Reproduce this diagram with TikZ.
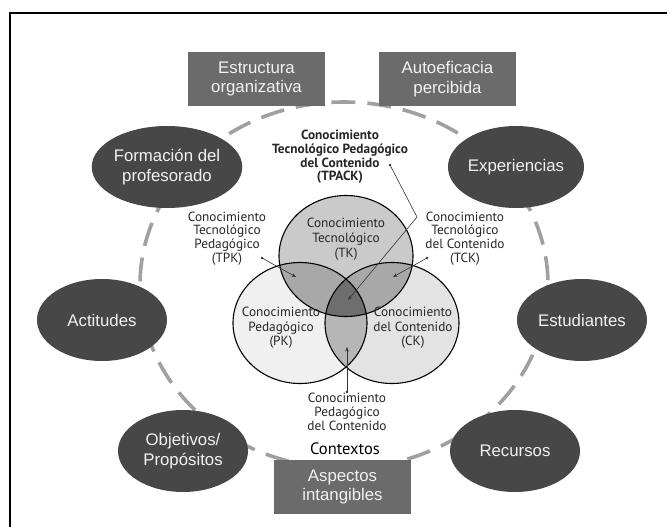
\documentclass[tikz,border=0pt]{standalone}
\usepackage{fontspec}
\setmainfont{Liberation Sans}
\newfontfamily\vennfont{PT Sans}
\usetikzlibrary{shapes.geometric,arrows.meta}
\definecolor{ellfill}{HTML}{474747}
\definecolor{boxfill}{HTML}{6B6B6B}
\definecolor{dashgray}{HTML}{A0A0A0}
\definecolor{tkfill}{HTML}{CACACA}
\definecolor{pkfill}{HTML}{F0F0F0}
\definecolor{ckfill}{HTML}{E3E3E3}
\definecolor{twofill}{HTML}{A8A8A8}
\definecolor{pckfill}{HTML}{B6B6B6}
\definecolor{allfill}{HTML}{6E6E6E}
\definecolor{wtext}{HTML}{F2F2F2}
\begin{document}
\begin{tikzpicture}[x=1pt,y=-1pt,
  darkell/.style={ellipse, fill=ellfill, text=wtext, minimum width=130pt, minimum height=82pt, inner sep=0pt, align=center, font=\fontsize{16.8}{19.5}\selectfont},
  graybox/.style={rectangle, fill=boxfill, text=wtext, minimum width=137pt, minimum height=54pt, inner sep=0pt, align=center, font=\fontsize{16.8}{19.5}\selectfont},
  vcircle/.style={ellipse, draw=black, line width=1.1pt, minimum width=134pt, minimum height=121pt, inner sep=0pt},
  vlabel/.style={align=center, text=black!85, font=\vennfont\fontsize{13.3}{13.8}\selectfont, inner sep=0pt},
  leader/.style={draw=black!80, line width=0.6pt, -{Stealth[length=4.5pt,width=3.5pt]}},
  dotmark/.style={circle, fill=black!80, inner sep=0pt, minimum size=2.6pt}
]
\useasboundingbox (0,0) rectangle (667,527);
\fill[white] (0,0) rectangle (667,527);
% frame
\draw[line width=2pt] (10,527) -- (10,13) -- (667,13);
% dashed context ellipse
\draw[dashgray, line width=3.6pt, dash pattern=on 24pt off 12pt] (344,285) ellipse [x radius=204, y radius=183];
% Venn fills
\fill[tkfill] (346,256) ellipse [x radius=67, y radius=60.5];
\fill[pkfill] (300,323) ellipse [x radius=67, y radius=60.5];
\fill[ckfill] (392,323) ellipse [x radius=67, y radius=60.5];
\begin{scope}
  \clip (346,256) ellipse [x radius=67, y radius=60.5];
  \fill[twofill] (300,323) ellipse [x radius=67, y radius=60.5];
  \fill[twofill] (392,323) ellipse [x radius=67, y radius=60.5];
\end{scope}
\begin{scope}
  \clip (300,323) ellipse [x radius=67, y radius=60.5];
  \fill[pckfill] (392,323) ellipse [x radius=67, y radius=60.5];
\end{scope}
\begin{scope}
  \clip (346,256) ellipse [x radius=67, y radius=60.5];
  \clip (300,323) ellipse [x radius=67, y radius=60.5];
  \fill[allfill] (392,323) ellipse [x radius=67, y radius=60.5];
\end{scope}
\node[vcircle] (tk) at (346,256) {};
\node[vcircle] (pk) at (300,323) {};
\node[vcircle] (ck) at (392,323) {};
% outer boxes
\node[graybox] (estr) at (256.5,79) {Estructura\\organizativa};
\node[graybox] (auto) at (447.5,79) {Autoeficacia\\percibida};
\node[graybox] (aspe) at (342.5,487) {Aspectos\\intangibles};
% dark ellipses
\node[darkell] (form) at (167,167) {Formación del\\profesorado};
\node[darkell] (expe) at (516,167) {Experiencias};
\node[darkell] (acti) at (102,320) {Actitudes};
\node[darkell] (estu) at (582,320) {Estudiantes};
\node[darkell] (obje) at (183,451) {Objetivos/\\Propósitos};
\node[darkell] (recu) at (515,451) {Recursos};
% labels
\node[vlabel, font=\vennfont\bfseries\fontsize{13.3}{13.6}\selectfont] (tpackl) at (340,157) {Conocimiento\\Tecnológico Pedagógico\\del Contenido\\(TPACK)};
\node[vlabel] (tpkl) at (227,238.5) {Conocimiento\\Tecnológico\\Pedagógico\\(TPK)};
\node[vlabel] (tckl) at (465,238.5) {Conocimiento\\Tecnológico\\del Contenido\\(TCK)};
\node[vlabel, font=\vennfont\fontsize{13.3}{15.2}\selectfont] (tkl) at (346,239) {Conocimiento\\Tecnológico\\(TK)};
\node[vlabel, font=\vennfont\fontsize{13.3}{14.5}\selectfont] (pkl) at (281,328) {Conocimiento\\Pedagógico\\(PK)};
\node[vlabel, font=\vennfont\fontsize{13.3}{14.5}\selectfont] (ckl) at (413,328) {Conocimiento\\del Contenido\\(CK)};
\node[vlabel] (pckl) at (347,412) {Conocimiento\\Pedagógico\\del Contenido};
\node[vlabel, text=black, font=\vennfont\fontsize{16.5}{18}\selectfont] (ctx) at (345,449) {Contextos};
% leader lines
\node[dotmark] (tpackdot) at (390,165) {};
\coordinate (tpackbend) at (417,217);
\coordinate (tpackpt) at (348,300);
\draw[leader] (tpackdot.center) -- (tpackbend) -- (tpackpt);
\node[dotmark] (tpkdot) at (262,258) {};
\coordinate (tpkpt) at (296,277);
\draw[leader] (tpkdot.center) -- (tpkpt);
\node[dotmark] (tckdot) at (427,258) {};
\coordinate (tckpt) at (393,277);
\draw[leader] (tckdot.center) -- (tckpt);
\node[dotmark] (pckdot) at (347,392) {};
\coordinate (pckpt) at (347,347);
\draw[leader] (pckdot.center) -- (pckpt);
\end{tikzpicture}
\end{document}
